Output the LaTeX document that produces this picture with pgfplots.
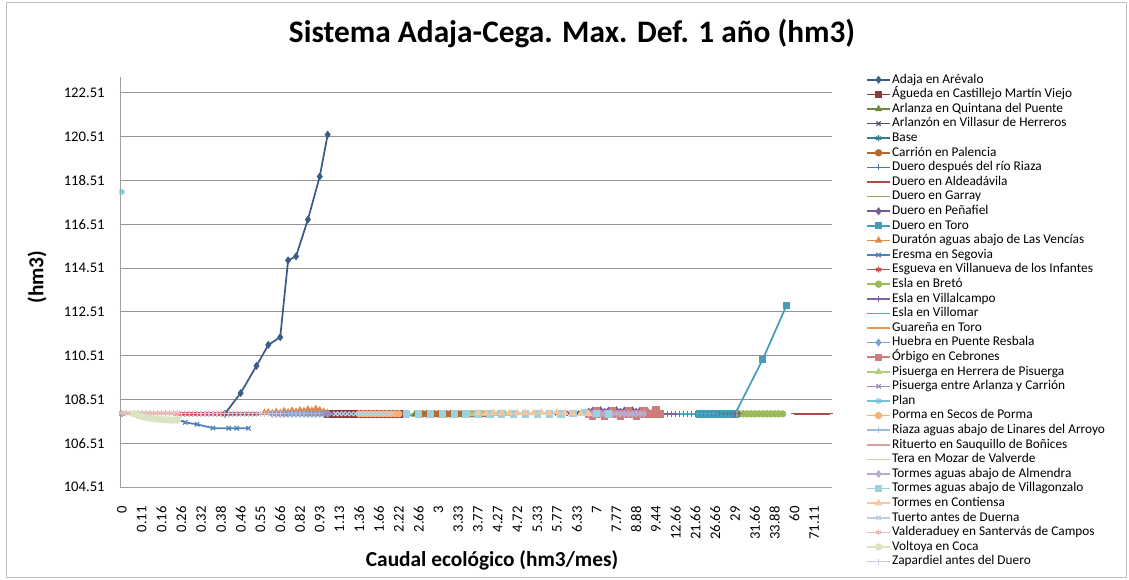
\documentclass[border=0pt]{standalone}
\usepackage{fontspec}
\setmainfont{Carlito}
\usepackage{pgfplots}
\pgfplotsset{compat=1.18}

% Excel 2007 accent colours
\definecolor{cB}{HTML}{4F81BD}
\definecolor{cR}{HTML}{C0504D}
\definecolor{cG}{HTML}{9BBB59}
\definecolor{cP}{HTML}{8064A2}
\definecolor{cA}{HTML}{4BACC6}
\definecolor{cO}{HTML}{F79646}
% shades, one per series
\colorlet{s1}{cB!72!black}\colorlet{s2}{cR!72!black}\colorlet{s3}{cG!72!black}
\colorlet{s4}{cP!72!black}\colorlet{s5}{cA!72!black}\colorlet{s6}{cO!72!black}
\colorlet{s7}{cB!92!black}\colorlet{s8}{cR!92!black}\colorlet{s9}{cG!92!black}
\colorlet{s10}{cP!92!black}\colorlet{s11}{cA!92!black}\colorlet{s12}{cO!92!black}
\colorlet{s13}{cB}\colorlet{s14}{cR}\colorlet{s15}{cG}
\colorlet{s16}{cP}\colorlet{s17}{cA}\colorlet{s18}{cO}
\colorlet{s19}{cB!75!white}\colorlet{s20}{cR!75!white}\colorlet{s21}{cG!75!white}
\colorlet{s22}{cP!75!white}\colorlet{s23}{cA!75!white}\colorlet{s24}{cO!75!white}
\colorlet{s25}{cB!55!white}\colorlet{s26}{cR!55!white}\colorlet{s27}{cG!55!white}
\colorlet{s28}{cP!55!white}\colorlet{s29}{cA!55!white}\colorlet{s30}{cO!55!white}
\colorlet{s31}{cB!38!white}\colorlet{s32}{cR!38!white}\colorlet{s33}{cG!38!white}
\colorlet{s34}{cP!38!white}

\begin{document}
\begin{tikzpicture}
\begin{axis}[
  at={(90pt,-57.75pt)}, anchor=north west,
  scale only axis, width=534pt, height=307.5pt,
  xmin=-0.5, xmax=179.5,
  ymin=104.51, ymax=123.23,
  axis x line*=bottom, axis y line*=left,
  axis line style={gray!75, line width=0.6pt},
  ymajorgrids, major grid style={gray!85, line width=0.6pt},
  major tick length=0pt,
  ytick={104.51,106.51,108.51,110.51,112.51,114.51,116.51,118.51,120.51,122.51},
  /pgf/number format/assume math mode=true,
  yticklabel style={/pgf/number format/fixed, /pgf/number format/fixed zerofill,
    /pgf/number format/precision=2, font=\fontsize{11}{12}\selectfont, xshift=-8pt},
  xtick={0,5,...,175},
  xticklabels={0,0.11,0.16,0.26,0.32,0.38,0.46,0.55,0.66,0.82,0.93,1.13,1.36,1.66,2.22,2.66,3,3.33,3.77,4.27,4.72,5.33,5.77,6.33,7,7.77,8.88,9.44,12.66,21.66,26.66,29,31.66,33.88,60,71.11},
  xticklabel style={rotate=90, anchor=east, font=\fontsize{11}{12}\selectfont, xshift=-11pt},
  title={Sistema Adaja-Cega. Max. Def. 1 año (hm3)},
  title style={font=\fontsize{23.5}{28}\selectfont\bfseries, at={(0.635,1.0854)}, anchor=center},
  xlabel={Caudal ecológico (hm3/mes)},
  xlabel style={font=\fontsize{16}{19}\selectfont\bfseries, at={(axis description cs:0.5225,-0.178)}, anchor=center},
  ylabel={(hm3)},
  ylabel style={font=\fontsize{16}{19}\selectfont\bfseries, at={(axis description cs:-0.1166,0.512)}, anchor=center},
  legend style={at={(1.0478,1.0085)}, anchor=north west, draw=none, fill=none,
    font=\fontsize{10}{12}\selectfont, inner sep=0pt, row sep=1.95pt,
    nodes={inner sep=0pt, inner xsep=1pt, text height=7pt, text depth=2pt, anchor=west}},
  legend cell align=left,
  every axis plot/.append style={line width=1.3pt, mark size=2.3pt, mark options={solid, line width=0.9pt}},
]

\addplot[s1, mark=diamond*] coordinates {(26,107.85) (30,108.80) (34,110.04) (37,111.00) (40,111.35) (42,114.86) (44,115.04) (47,116.72) (50,118.69) (52,120.60)};
\addlegendentry{Adaja en Arévalo}

\addplot[s2, mark=square*] coordinates {(52,107.85) (53,107.85) (54,107.85) (55,107.85) (56,107.85) (57,107.85) (58,107.85) (59,107.85) (60,107.85) (61,107.85) (62,107.85) (63,107.85) (64,107.85) (65,107.85) (66,107.85) (67,107.85) (68,107.85) (69,107.85) (70,107.85)};
\addlegendentry{Águeda en Castillejo Martín Viejo}

\addplot[s3, mark=triangle*] coordinates {(74,107.82) (75,107.82) (76,107.82) (77,107.82) (78,107.82) (79,107.82) (80,107.82) (81,107.82) (82,107.82) (83,107.82) (84,107.82) (85,107.82) (86,107.82)};
\addlegendentry{Arlanza en Quintana del Puente}

\addplot[s4, mark=x] coordinates {(110,107.88) (111,107.88) (112,107.88) (113,107.88) (114,107.88) (115,107.88) (116,107.88) (117,107.88) (118,107.88) (119,107.88) (120,107.88) (121,107.88) (122,107.88)};
\addlegendentry{Arlanzón en Villasur de Herreros}

\addplot[s5, mark=asterisk] coordinates {(0,107.85)};
\addlegendentry{Base}

\addplot[s6, mark=*] coordinates {(75,107.85) (76,107.85) (77,107.85) (78,107.85) (79,107.85) (80,107.85) (81,107.85) (82,107.85) (83,107.85) (84,107.85) (85,107.85) (86,107.85) (87,107.85) (88,107.85) (89,107.85) (90,107.85) (91,107.85) (92,107.85)};
\addlegendentry{Carrión en Palencia}

\addplot[s7, mark=+] coordinates {(36,107.85) (37,107.85) (38,107.85) (39,107.85) (40,107.85) (41,107.85) (42,107.85) (43,107.85) (44,107.85) (45,107.85) (46,107.85) (47,107.85) (48,107.85) (49,107.85) (50,107.85) (51,107.85) (52,107.85)};
\addlegendentry{Duero después del río Riaza}

\addplot[s8, mark=-] coordinates {(170,107.85) (171,107.85) (172,107.85) (173,107.85) (174,107.85) (175,107.85) (176,107.85) (177,107.85) (178,107.85) (179,107.85)};
\addlegendentry{Duero en Aldeadávila}

\addplot[s9, mark=none] coordinates {(68,107.80) (69,107.80) (70,107.80) (71,107.80) (72,107.80) (73,107.80) (74,107.80) (75,107.80) (76,107.80) (77,107.80) (78,107.80)};
\addlegendentry{Duero en Garray}

\addplot[s10, mark=diamond*] coordinates {(118,107.95) (119,108.00) (120,107.95) (121,108.02) (122,107.95) (123,108.00) (124,107.95) (125,108.02) (126,107.95) (127,108.00) (128,107.95) (129,108.02) (130,107.95) (131,108.00) (132,107.95) (133,107.92) (134,107.88)};
\addlegendentry{Duero en Peñafiel}

\addplot[s11, mark=square*] coordinates {(146,107.85) (147,107.85) (148,107.85) (149,107.85) (150,107.85) (151,107.85) (152,107.85) (153,107.85) (154,107.85) (155,107.85) (162,110.34) (168,112.80)};
\addlegendentry{Duero en Toro}

\addplot[s12, mark=triangle*] coordinates {(36,107.90) (37,107.92) (38,107.88) (39,107.95) (40,107.90) (41,107.98) (42,107.93) (43,108.00) (44,107.95) (45,108.02) (46,107.98) (47,108.05) (48,108.00) (49,108.08) (50,108.02) (51,107.95) (52,107.90)};
\addlegendentry{Duratón aguas abajo de Las Vencías}

\addplot[s13, mark=x] coordinates {(14,107.60) (16,107.46) (19,107.37) (23,107.20) (27,107.19) (29,107.19) (32,107.19)};
\addlegendentry{Eresma en Segovia}

\addplot[s14, mark=asterisk] coordinates {(14,107.85) (15,107.85) (16,107.85) (17,107.85) (18,107.85) (19,107.85) (20,107.85) (21,107.85) (22,107.85) (23,107.85) (24,107.85) (25,107.85) (26,107.85) (27,107.85) (28,107.85) (29,107.85) (30,107.85) (31,107.85) (32,107.85) (33,107.85) (34,107.85)};
\addlegendentry{Esgueva en Villanueva de los Infantes}

\addplot[s15, mark=*] coordinates {(156,107.85) (157,107.85) (158,107.85) (159,107.85) (160,107.85) (161,107.85) (162,107.85) (163,107.85) (164,107.85) (165,107.85) (166,107.85) (167,107.85)};
\addlegendentry{Esla en Bretó}

\addplot[s16, mark=+] coordinates {(134,107.85) (135,107.85) (136,107.85) (137,107.85) (138,107.85) (139,107.85) (140,107.85) (141,107.85) (142,107.85) (143,107.85) (144,107.85) (145,107.85) (146,107.85) (147,107.85) (148,107.85) (149,107.85) (150,107.85) (151,107.85) (152,107.85) (153,107.85) (154,107.85) (155,107.85) (156,107.85)};
\addlegendentry{Esla en Villalcampo}

\addplot[s17, mark=-] coordinates {(141,107.85) (142,107.85) (143,107.85) (144,107.85) (145,107.85) (146,107.85) (147,107.85) (148,107.85) (149,107.85) (150,107.85)};
\addlegendentry{Esla en Villomar}

\addplot[s18, mark=none] coordinates {(80,107.88) (81,107.88) (82,107.88) (83,107.88) (84,107.88) (85,107.88) (86,107.88) (87,107.88) (88,107.88) (89,107.88) (90,107.88)};
\addlegendentry{Guareña en Toro}

\addplot[s19, mark=diamond*] coordinates {(38,107.85) (39,107.85) (40,107.85) (41,107.85) (42,107.85) (43,107.85) (44,107.85) (45,107.85) (46,107.85) (47,107.85) (48,107.85) (49,107.85) (50,107.85) (51,107.85) (52,107.85)};
\addlegendentry{Huebra en Puente Resbala}

\addplot[s20, mark=square*] coordinates {(118,107.85) (119,107.75) (120,108.00) (121,107.85) (122,107.75) (123,107.85) (124,108.00) (125,107.85) (126,107.75) (127,107.85) (128,108.00) (129,107.85) (130,107.75) (131,107.85) (132,108.00) (133,107.85) (134,107.85) (135,108.02) (136,107.85)};
\addlegendentry{Órbigo en Cebrones}

\addplot[s21, mark=triangle*] coordinates {(88,107.85) (89,107.85) (90,107.85) (91,107.85) (92,107.85) (93,107.85) (94,107.85) (95,107.85) (96,107.85) (97,107.85) (98,107.85)};
\addlegendentry{Pisuerga en Herrera de Pisuerga}

\addplot[s22, mark=x] coordinates {(40,107.85) (41,107.85) (42,107.85) (43,107.85) (44,107.85) (45,107.85) (46,107.85) (47,107.85) (48,107.85) (49,107.85) (50,107.85) (51,107.85) (52,107.85) (53,107.85) (54,107.85) (55,107.85) (56,107.85)};
\addlegendentry{Pisuerga entre Arlanza y Carrión}

\addplot[s23, mark=asterisk] coordinates {(0,117.98)};
\addlegendentry{Plan}

\addplot[s24, mark=*] coordinates {(60,107.85) (61,107.85) (62,107.85) (63,107.85) (64,107.85) (65,107.85) (66,107.85) (67,107.85) (68,107.85) (69,107.85) (70,107.85)};
\addlegendentry{Porma en Secos de Porma}

\addplot[s25, mark=+] coordinates {(36,107.85) (37,107.85) (38,107.85) (39,107.85) (40,107.85) (41,107.85) (42,107.85) (43,107.85) (44,107.85) (45,107.85) (46,107.85) (47,107.85) (48,107.85) (49,107.85) (50,107.85)};
\addlegendentry{Riaza aguas abajo de Linares del Arroyo}

\addplot[s26, mark=-] coordinates {(0,107.88) (1,107.88) (2,107.88) (3,107.88) (4,107.88) (5,107.88) (6,107.88) (7,107.88) (8,107.88) (9,107.88) (10,107.88) (11,107.88) (12,107.88) (13,107.88) (14,107.88)};
\addlegendentry{Rituerto en Sauquillo de Boñices}

\addplot[s27, mark=none] coordinates {(98,107.85) (99,107.85) (100,107.85) (101,107.85) (102,107.85) (103,107.85) (104,107.85) (105,107.85) (106,107.85)};
\addlegendentry{Tera en Mozar de Valverde}

\addplot[s28, mark=diamond*] coordinates {(118,107.85) (119,107.85) (120,107.85) (121,107.85) (122,107.85) (123,107.85) (124,107.85) (125,107.85) (126,107.85) (127,107.85) (128,107.85) (129,107.85) (130,107.85) (131,107.85) (132,107.85)};
\addlegendentry{Tormes aguas abajo de Almendra}

\addplot[s29, mark=square*] coordinates {(72,107.85) (75,107.85) (78,107.85) (81,107.85) (84,107.85) (87,107.85) (90,107.85) (93,107.85) (96,107.85) (99,107.85) (102,107.85) (105,107.85) (108,107.85) (111,107.85) (114,107.88) (117,107.92) (120,107.88) (123,107.85)};
\addlegendentry{Tormes aguas abajo de Villagonzalo}

\addplot[s30, mark=triangle*] coordinates {(90,107.88) (92,107.88) (94,107.90) (96,107.88) (98,107.90) (100,107.88) (102,107.90) (104,107.88) (106,107.92) (108,107.88) (110,107.92) (112,107.90) (114,107.88) (116,107.85) (118,107.85)};
\addlegendentry{Tormes en Contiensa}

\addplot[s31, mark=x] coordinates {(54,107.85) (55,107.85) (56,107.85) (57,107.85) (58,107.85) (59,107.85) (60,107.85) (61,107.85) (62,107.85) (63,107.85) (64,107.85) (65,107.85) (66,107.85) (67,107.85) (68,107.85)};
\addlegendentry{Tuerto antes de Duerna}

\addplot[s32, mark=asterisk] coordinates {(0,107.88) (1,107.88) (2,107.88) (3,107.88) (4,107.88) (5,107.88) (6,107.88) (7,107.88) (8,107.88) (9,107.88) (10,107.88) (11,107.88) (12,107.88) (13,107.88) (14,107.88)};
\addlegendentry{Valderaduey en Santervás de Campos}

\addplot[s33, mark=*] coordinates {(3,107.85) (4,107.78) (5,107.73) (6,107.69) (7,107.66) (8,107.63) (9,107.61) (10,107.59) (11,107.58) (12,107.57) (13,107.56) (14,107.56)};
\addlegendentry{Voltoya en Coca}

\addplot[s34, mark=+] coordinates {(14,107.85) (15,107.85) (16,107.85) (17,107.85) (18,107.85) (19,107.85) (20,107.85) (21,107.85) (22,107.85) (23,107.85) (24,107.85) (25,107.85) (26,107.85) (27,107.85) (28,107.85) (29,107.85) (30,107.85) (31,107.85) (32,107.85) (33,107.85) (34,107.85) (35,107.85) (36,107.85) (37,107.85) (38,107.85) (39,107.85) (40,107.85)};
\addlegendentry{Zapardiel antes del Duero}

\end{axis}
\draw[gray!50, line width=0.6pt] (4.5pt,-1.5pt) rectangle (844.5pt,-432.75pt);
\pgfresetboundingbox
\path (0,0) rectangle (846.75pt,-434.25pt);
\end{tikzpicture}
\end{document}
